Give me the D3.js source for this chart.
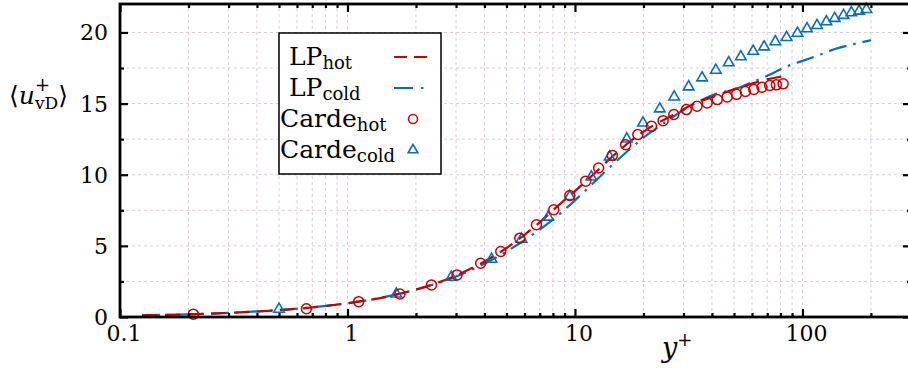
<!DOCTYPE html>
<html>
<head>
<meta charset="utf-8">
<script src="https://cdn.jsdelivr.net/npm/d3@7"></script>
<style>
  html, body { margin: 0; padding: 0; background: #fff; }
  svg { display: block; }
  text { font-family: "DejaVu Serif", "Liberation Serif", serif; fill: #000; }
</style>
</head>
<body>
<svg id="chart" width="908" height="372"></svg>
<script>
// Mean van Driest velocity profiles: LP model lines and Carde reference points
const lpHotX  = [0.125, 0.2, 0.3, 0.5, 0.7, 1, 1.5, 2, 3, 4, 5, 6, 7, 8, 10, 12, 15, 18, 22, 27, 33, 40, 50, 60, 70, 85];
const lpHotY  = [0.12, 0.19, 0.29, 0.48, 0.67, 0.97, 1.44, 1.93, 2.92, 3.9, 4.85, 5.78, 6.65, 7.5, 8.85, 10.0, 11.45, 12.5, 13.45, 14.2, 14.95, 15.45, 16.0, 16.4, 16.7, 16.95];

const lpColdX = [0.125, 0.2, 0.3, 0.5, 0.7, 1, 1.5, 2, 3, 4, 5, 6, 7, 8, 10, 12, 14.5, 17, 20, 25, 30, 35, 42, 50, 60, 70, 85, 100, 120, 140, 170, 200];
const lpColdY = [0.12, 0.19, 0.29, 0.49, 0.68, 0.97, 1.45, 1.92, 2.85, 3.75, 4.6, 5.4, 6.15, 6.85, 8.2, 9.4, 10.65, 11.65, 12.6, 13.7, 14.55, 15.15, 15.7, 16.0, 16.5, 16.95, 17.6, 18.0, 18.45, 18.85, 19.2, 19.45];

const cardeHotX = [0.21, 0.66, 1.12, 1.70, 2.34, 3.03, 3.85, 4.72, 5.72, 6.77, 8.07, 9.49, 11.15, 12.7, 14.6, 16.7, 18.9, 21.7, 24.4, 27.2, 30.9, 34.4, 38.1, 42.2, 46.7, 51.3, 56.1, 61.1, 66.4, 71.8, 76.8, 82.2];
const cardeHotY = [0.2, 0.58, 1.08, 1.62, 2.25, 2.96, 3.78, 4.6, 5.54, 6.48, 7.54, 8.54, 9.55, 10.47, 11.36, 12.11, 12.82, 13.4, 13.8, 14.23, 14.58, 14.81, 15.05, 15.28, 15.47, 15.65, 15.85, 15.99, 16.15, 16.27, 16.32, 16.39];

const cardeColdX = [0.50, 1.64, 2.86, 4.30, 5.82, 7.62, 9.49, 11.8, 14.2, 16.9, 19.9, 23.6, 27.3, 31.6, 36.2, 41.6, 47.4, 53.6, 60.7, 67.8, 76.0, 85.1, 95.1, 104.7, 115.9, 127.4, 138.6, 151.5, 164, 177.4, 191];
const cardeColdY = [0.55, 1.62, 2.8, 4.06, 5.47, 7.02, 8.47, 9.84, 11.25, 12.51, 13.64, 14.63, 15.47, 16.18, 16.81, 17.35, 17.87, 18.29, 18.68, 18.99, 19.35, 19.65, 19.95, 20.26, 20.49, 20.75, 20.99, 21.2, 21.39, 21.5, 21.62];

const xMajorTicks = [0.1, 1, 10, 100];
const xTickLabels = ["0.1", "1", "10", "100"];
const yMajorTicks = [0, 5, 10, 15, 20];
const yTickLabels = ["0", "5", "10", "15", "20"];
const yMinorTicks = [2.5, 7.5, 12.5, 17.5];

const RED = "#c00000";
const BLUE = "#0a6cb8";
const GRID = "#e0c8e0";

const svg = d3.select("#chart");
const plotLeft = 120, plotTop = 4, plotBottom = 317;

const x = d3.scaleLog().domain([0.1, 300]).range([plotLeft, 911]);
const y = d3.scaleLinear().domain([0, 22]).range([plotBottom, plotTop]);
const plotRight = x.range()[1];

// minor log positions 2..9 in each decade
const xAll = [];
[0.1, 1, 10, 100].forEach(d => { for (let k = 1; k <= 9; k++) { const v = d * k; if (v <= 300) xAll.push(+v.toPrecision(3)); } });
const xMinorTicks = xAll.filter(v => !xMajorTicks.includes(v));

// grid
const grid = svg.append("g").attr("stroke", GRID).attr("stroke-width", 1).attr("stroke-dasharray", "3,3");
grid.selectAll("line.v").data(xAll.filter(v => v > 0.1)).join("line")
  .attr("x1", d => x(d)).attr("x2", d => x(d)).attr("y1", plotBottom).attr("y2", plotTop);
grid.selectAll("line.h").data(d3.range(2.5, 22, 2.5)).join("line")
  .attr("x1", plotLeft).attr("x2", plotRight).attr("y1", d => y(d)).attr("y2", d => y(d));

// curves
const line = d3.line().x(d => x(d[0])).y(d => y(d[1])).curve(d3.curveMonotoneX);
svg.append("path").datum(d3.zip(lpColdX, lpColdY)).attr("d", line)
  .attr("fill", "none").attr("stroke", BLUE).attr("stroke-width", 2.2).attr("stroke-dasharray", "18,7,2.5,7");
svg.append("path").datum(d3.zip(lpHotX, lpHotY)).attr("d", line)
  .attr("fill", "none").attr("stroke", RED).attr("stroke-width", 2.2).attr("stroke-dasharray", "15,8");

// markers
const tri = d3.symbol().type(d3.symbolTriangle).size(48);
svg.append("g").selectAll("path").data(d3.zip(cardeColdX, cardeColdY)).join("path")
  .attr("d", tri).attr("transform", d => `translate(${x(d[0])},${y(d[1])})`)
  .attr("fill", "none").attr("stroke", BLUE).attr("stroke-width", 1.6);
svg.append("g").selectAll("circle").data(d3.zip(cardeHotX, cardeHotY)).join("circle")
  .attr("cx", d => x(d[0])).attr("cy", d => y(d[1])).attr("r", 5)
  .attr("fill", "none").attr("stroke", RED).attr("stroke-width", 1.5);

// axes: inward ticks on all four sides
function tickAxis(gen, scale, vals, len, tr) {
  const g = svg.append("g").attr("transform", tr)
    .call(gen(scale).tickValues(vals).tickSizeInner(-len).tickSizeOuter(0).tickFormat(""));
  g.select(".domain").remove();
  g.selectAll(".tick line").attr("stroke", "#000").attr("stroke-width", 2.2);
  return g;
}
tickAxis(d3.axisBottom, x, xMajorTicks, 8, `translate(0,${plotBottom})`);
tickAxis(d3.axisBottom, x, xMinorTicks, 4, `translate(0,${plotBottom})`);
tickAxis(d3.axisTop, x, xMajorTicks, 8, `translate(0,${plotTop})`);
tickAxis(d3.axisTop, x, xMinorTicks, 4, `translate(0,${plotTop})`);
tickAxis(d3.axisLeft, y, yMajorTicks, 8, `translate(${plotLeft},0)`);
tickAxis(d3.axisLeft, y, yMinorTicks, 4, `translate(${plotLeft},0)`);
tickAxis(d3.axisRight, y, yMajorTicks, 8, `translate(${plotRight},0)`);
tickAxis(d3.axisRight, y, yMinorTicks, 4, `translate(${plotRight},0)`);

// frame
svg.append("rect").attr("x", plotLeft).attr("y", plotTop).attr("width", plotRight - plotLeft).attr("height", plotBottom - plotTop)
  .attr("fill", "none").attr("stroke", "#000").attr("stroke-width", 2.8);

// tick labels
svg.append("g").selectAll("text").data(xMajorTicks).join("text")
  .attr("x", d => x(d) + 4).attr("y", plotBottom + 24).attr("text-anchor", "middle")
  .attr("font-size", 22).text((d, i) => xTickLabels[i]);
svg.append("g").selectAll("text").data(yMajorTicks).join("text")
  .attr("x", plotLeft - 12).attr("y", d => y(d) + 8).attr("text-anchor", "end")
  .attr("font-size", 22).text((d, i) => yTickLabels[i]);

// axis titles
const xt = svg.append("text").attr("x", 662).attr("y", 357).attr("font-size", 27);
xt.append("tspan").attr("font-style", "italic").text("y");
xt.append("tspan").attr("font-size", 18).attr("dy", -11).text("+");

const yt = svg.append("text").attr("x", 9).attr("y", 104).attr("font-size", 25);
yt.append("tspan").text("⟨");
yt.append("tspan").attr("font-style", "italic").text("u");
yt.append("tspan").attr("font-size", 18).attr("dy", -13).text("+");
yt.append("tspan").attr("font-size", 17).attr("dx", -15).attr("dy", 18).text("vD");
yt.append("tspan").attr("dy", -5).text("⟩");

// legend
const lg = svg.append("g");
lg.append("rect").attr("x", 279).attr("y", 33).attr("width", 162).attr("height", 141)
  .attr("fill", "#fff").attr("stroke", "#000").attr("stroke-width", 1.5);
const entries = [
  { main: "LP", sub: "hot", x: 289, cy: 57, kind: "dash" },
  { main: "LP", sub: "cold", x: 289, cy: 88, kind: "dashdot" },
  { main: "Carde", sub: "hot", x: 280, cy: 119, kind: "circle" },
  { main: "Carde", sub: "cold", x: 280, cy: 150, kind: "tri" }
];
entries.forEach(e => {
  const t = lg.append("text").attr("x", e.x).attr("y", e.cy + 8).attr("font-size", 25);
  t.append("tspan").text(e.main);
  t.append("tspan").attr("font-size", 18).attr("dy", 4).text(e.sub);
  if (e.kind === "dash") {
    lg.append("line").attr("x1", 394).attr("x2", 428).attr("y1", e.cy).attr("y2", e.cy)
      .attr("stroke", RED).attr("stroke-width", 2.2).attr("stroke-dasharray", "13,7");
  } else if (e.kind === "dashdot") {
    lg.append("line").attr("x1", 394).attr("x2", 428).attr("y1", e.cy).attr("y2", e.cy)
      .attr("stroke", BLUE).attr("stroke-width", 2.2).attr("stroke-dasharray", "19,8,2.5,8");
  } else if (e.kind === "circle") {
    lg.append("circle").attr("cx", 413).attr("cy", e.cy).attr("r", 4.5)
      .attr("fill", "none").attr("stroke", RED).attr("stroke-width", 1.5);
  } else {
    lg.append("path").attr("d", d3.symbol().type(d3.symbolTriangle).size(40))
      .attr("transform", `translate(413,${e.cy})`)
      .attr("fill", "none").attr("stroke", BLUE).attr("stroke-width", 1.6);
  }
});
</script>
</body>
</html>
